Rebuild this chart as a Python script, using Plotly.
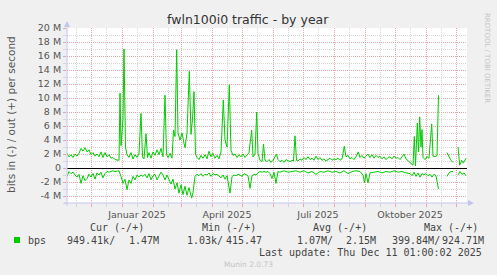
import plotly.graph_objects as go
import pandas as pd

# ---------------- data (Mbit/s, day offsets from start of graph) ----------------
start = pd.Timestamp("2024-11-07")
end = start + pd.Timedelta(days=400)

out_day = [0, 2, 4, 6, 8, 10, 12, 14, 16, 18,
           20, 22, 24, 26, 28, 30, 32, 34, 36, 38,
           40, 42, 44, 46, 48, 50, 52, 53, 54, 56,
           57, 58.5, 60, 62, 64, 66, 68, 70, 72, 74,
           75.5, 77, 79, 80.5, 82, 84, 86, 88, 90, 92,
           94, 96, 98, 99.5, 101, 103, 105, 106.5, 108, 109.7,
           111, 113, 115, 117, 118, 120, 122.3, 124, 125.5, 127,
           128.5, 130, 132, 134, 136, 138, 140, 142, 144, 146,
           148, 150, 152, 154, 156.3, 158, 160, 162.3, 164, 166,
           168, 170, 172, 174, 176, 178, 180, 182, 184.7, 186,
           188, 189.7, 191, 193, 195, 196.5, 198, 200, 202, 204,
           206, 208, 209.5, 211, 213, 215, 217, 219, 221, 223,
           225, 226.5, 228, 229.5, 231, 233, 235, 237, 239, 241,
           243, 245, 247, 249, 251, 253, 255, 257, 259, 261,
           263, 265, 267, 269, 271, 273, 275, 277.3, 279, 281,
           283, 285, 287, 289, 291.3, 293, 295, 297, 299, 301,
           303, 305, 307, 309, 311, 313, 315, 317, 319, 321,
           323, 325, 327, 329, 331, 333, 335, 337, 339, 341,
           343, 345, 346, 347.3, 348.5, 350.3, 351.5, 352.7, 354, 355,
           356, 358, 360, 362, 364.7, 366, 368, 370, 371.5, 375,
           380, 382, 384, 386, 388.5, 391, 392.7, 394.7, 396.3, 399]
out_mbps = [2.1, 1.6, 1.9, 1.5, 2.0, 1.7, 2.1, 2.8, 2.4, 2.9,
            2.3, 2.6, 1.9, 2.2, 1.7, 2.0, 1.6, 2.3, 1.5, 2.2,
            1.6, 1.9, 1.4, 1.5, 1.2, 1.1, 1.1, 10.7, 3.2, 7.0,
            17.0, 3.0, 1.9, 1.5, 2.2, 1.3, 1.9, 1.5, 2.1, 7.8,
            1.6, 1.3, 4.9, 1.5, 2.2, 1.4, 2.3, 1.8, 2.6, 1.9,
            2.8, 1.6, 10.4, 1.9, 1.5, 2.1, 1.4, 5.4, 4.5, 16.9,
            5.0, 4.0, 5.0, 3.5, 2.9, 5.0, 13.8, 4.8, 7.0, 10.9,
            2.0, 1.5, 1.2, 1.8, 1.4, 1.9, 1.3, 2.4, 1.6, 2.1,
            1.4, 1.8, 1.3, 2.3, 9.7, 4.0, 3.0, 11.9, 2.5, 1.8,
            2.0, 1.5, 1.9, 1.6, 2.0, 1.5, 1.8, 2.2, 5.4, 1.6,
            2.0, 8.0, 2.1, 1.1, 0.9, 3.4, 1.1, 0.9, 1.2, 0.8,
            1.1, 1.6, 2.0, 1.2, 0.9, 1.1, 0.8, 1.2, 1.0, 0.9,
            1.1, 1.0, 4.6, 1.1, 1.0, 1.3, 1.1, 1.5, 1.2, 1.6,
            1.2, 1.4, 1.1, 1.7, 1.2, 1.5, 1.1, 1.3, 1.0, 1.2,
            1.4, 1.1, 1.3, 1.2, 1.4, 1.1, 1.3, 3.1, 1.6, 1.8,
            1.3, 1.5, 1.2, 1.6, 2.3, 1.5, 1.8, 1.4, 1.7, 2.0,
            1.5, 1.9, 1.4, 1.8, 1.5, 1.7, 1.3, 1.6, 1.2, 1.5,
            1.6, 1.3, 1.7, 1.4, 1.5, 1.2, 1.6, 2.0, 1.3, 1.0,
            0.7, 0.5, 0.4, 4.5, 0.3, 6.4, 2.3, 7.3, 3.0, 5.5,
            1.5, 1.2, 1.6, 1.4, 6.3, 1.7, 1.6, 1.8, 10.4, None,
            2.2, 1.6, 1.1, 0.8, None, 3.0, 0.4, 1.1, 0.7, 1.4]

in_day = [0, 2, 4, 6, 8, 10, 12, 14, 16, 18,
          20, 22, 24, 26, 28, 30, 32, 34, 36, 38,
          40, 42, 44, 46, 48, 50, 52, 54, 56, 58,
          60, 62, 64, 66, 68, 70, 72, 74, 76, 78,
          80, 82, 84, 86, 88, 90, 92, 94, 96, 98,
          100, 102, 104, 106, 108, 110, 112, 114, 116, 118,
          120, 122, 124.7, 126, 128, 130, 132, 134, 136, 138,
          140, 142, 144, 146, 148, 150, 152, 154, 156, 158,
          160, 163, 165, 167, 169, 171, 173, 175, 177, 179,
          181, 183, 185, 187, 189, 191, 193, 195, 197, 199,
          201, 203, 205, 207, 209, 211, 213, 215, 217, 221,
          225, 229, 233, 237, 241, 245, 249, 253, 257, 261,
          265, 269, 273, 277, 281, 285, 289, 293, 296, 297.5,
          299, 301, 303, 307, 311, 315, 319, 323, 327, 331,
          335, 339, 343, 345, 347, 349, 351, 353, 355, 357,
          359, 361, 363, 365, 367, 369, 371.5, 375, 380, 382,
          384, 386, 388.5, 391, 393, 395, 397, 399]
in_mbps = [-1.2, -0.5, -0.8, -0.6, -1.0, -1.3, -0.9, -2.2, -1.1, -1.8,
           -1.5, -0.9, -1.3, -0.8, -1.6, -0.7, -1.0, -0.6, -1.4, -0.8,
           -0.5, -0.6, -0.5, -0.4, -0.5, -0.5, -0.4, -1.2, -2.2, -1.6,
           -3.1, -1.7, -2.2, -1.2, -1.7, -1.0, -1.3, -1.0, -1.2, -0.9,
           -1.4, -0.8, -1.7, -1.1, -0.9, -1.7, -1.2, -0.6, -1.0, -1.7,
           -1.0, -1.6, -2.3, -1.6, -3.0, -2.1, -3.6, -2.4, -3.8, -2.6,
           -3.9, -2.8, -4.3, -3.5, -1.2, -0.9, -1.1, -0.8, -1.2, -0.9,
           -1.0, -0.7, -1.2, -0.8, -1.0, -0.9, -1.2, -1.4, -1.0, -1.6,
           -1.1, -3.6, -1.2, -1.0, -1.1, -0.9, -1.0, -1.2, -0.8, -1.0,
           -1.1, -2.9, -1.1, -0.9, -1.0, -0.7, -0.5, -0.6, -0.5, -0.6,
           -0.5, -0.8, -1.5, -0.6, -2.2, -0.5, -0.6, -0.5, -0.4, -0.6,
           -0.5, -0.4, -0.6, -0.4, -0.7, -0.5, -0.9, -0.5, -0.6, -0.4,
           -0.6, -0.5, -0.7, -0.4, -0.8, -0.5, -0.4, -0.5, -1.0, -2.1,
           -0.8, -2.1, -0.7, -0.6, -0.5, -0.7, -0.5, -0.6, -0.4, -0.6,
           -0.5, -0.7, -0.8, -1.1, -0.6, -1.2, -0.7, -1.3, -0.8, -1.0,
           -0.8, -1.1, -0.9, -1.3, -0.9, -1.1, -3.0, None, -1.2, -0.7,
           -0.5, -0.5, None, -1.0, -0.5, -0.9, -0.7, -1.1]

y_tick_vals = [-4, -2, 0, 2, 4, 6, 8, 10, 12, 14, 16, 18, 20]
y_tick_text = ["-4 M", "-2 M", "0", "2 M", "4 M", "6 M", "8 M", "10 M",
               "12 M", "14 M", "16 M", "18 M", "20 M"]
month_starts = pd.date_range("2024-12-01", "2025-12-01", freq="MS")
mid_months = [d + pd.Timedelta(days=15) for d in pd.date_range("2024-11-01", "2025-11-01", freq="MS")]
label_months = {"2025-01": "Januar 2025", "2025-04": "April 2025",
                "2025-07": "Juli 2025", "2025-10": "Oktober 2025"}

legend_header = ["Cur (-/+)", "Min (-/+)", "Avg (-/+)", "Max (-/+)"]
legend_values = ["949.41k/", "1.47M", "1.03k/", "415.47", "1.07M/", "2.15M", "399.84M/", "924.71M"]

# ---------------- layout helpers ----------------
W, H = 497, 275
PL, PR, PT, PB = 67, 467, 28, 203  # plot area in pixels


def fx(px):
    return (px - PL) / (PR - PL)


def fy(py):
    return (PB - py) / (PB - PT)


GREEN = "#00CC00"
RED_GRID = "#EBA5A5"
GRAY_GRID = "#D6D6D6"
AXIS = "#C4C4F2"
TXT = "#555555"
SANS = "DejaVu Sans"
MONO = "DejaVu Sans Mono"

fig = go.Figure()
fig.add_trace(go.Scatter(
    x=[start + pd.Timedelta(days=d) for d in out_day],
    y=[None if v is None else v * 1e6 for v in out_mbps],
    mode="lines", line=dict(color=GREEN, width=1), connectgaps=False,
    hoverinfo="skip", showlegend=False))
fig.add_trace(go.Scatter(
    x=[start + pd.Timedelta(days=d) for d in in_day],
    y=[None if v is None else v * 1e6 for v in in_mbps],
    mode="lines", line=dict(color=GREEN, width=1), connectgaps=False,
    hoverinfo="skip", showlegend=False))

fig.update_layout(
    width=W, height=H,
    margin=dict(l=PL, r=W - PR, t=PT, b=H - PB, pad=0),
    paper_bgcolor="#F0F0F0", plot_bgcolor="#FFFFFF",
    showlegend=False,
    xaxis=dict(
        type="date", range=[start, end], fixedrange=True,
        tickmode="array", tickvals=mid_months,
        ticktext=[label_months.get(d.strftime("%Y-%m"), "") for d in mid_months],
        showgrid=True, gridcolor=GRAY_GRID, griddash="1px,1px", gridwidth=1,
        ticks="outside", ticklen=3, tickcolor=GRAY_GRID, tickwidth=1,
        tickfont=dict(family=SANS, size=9.5, color=TXT),
        showline=False, zeroline=False,
        minor=dict(tickmode="array", tickvals=list(month_starts), showgrid=True,
                   gridcolor=RED_GRID, griddash="1px,1px", gridwidth=1,
                   ticks="outside", ticklen=3, tickcolor=RED_GRID, tickwidth=1),
    ),
    yaxis=dict(
        range=[-5e6, 20e6], fixedrange=True,
        tickmode="array", tickvals=[v * 1e6 for v in y_tick_vals], ticktext=y_tick_text,
        showgrid=True, gridcolor=RED_GRID, griddash="1px,1px", gridwidth=1,
        ticks="outside", ticklen=3, tickcolor=RED_GRID, tickwidth=1,
        tickfont=dict(family=SANS, size=9.5, color=TXT),
        showline=False,
        zeroline=True, zerolinecolor="#000000", zerolinewidth=1,
        minor=dict(tickmode="linear", tick0=0, dtick=1e6, showgrid=True,
                   gridcolor=GRAY_GRID, griddash="1px,1px", gridwidth=1,
                   ticks="outside", ticklen=3, tickcolor=GRAY_GRID, tickwidth=1),
    ),
)

shapes = [
    # x axis line + arrow
    dict(type="line", xref="paper", yref="paper", x0=fx(64), x1=fx(468), y0=fy(PB), y1=fy(PB),
         line=dict(color=AXIS, width=1)),
    dict(type="path", xref="paper", yref="paper",
         path=f"M {fx(468)} {fy(200)} L {fx(474)} {fy(203)} L {fx(468)} {fy(206)} Z",
         fillcolor=AXIS, line=dict(width=0)),
    # y axis line + arrow
    dict(type="line", xref="paper", yref="paper", x0=fx(PL), x1=fx(PL), y0=fy(206), y1=fy(27),
         line=dict(color=AXIS, width=1)),
    dict(type="path", xref="paper", yref="paper",
         path=f"M {fx(64)} {fy(27)} L {fx(67)} {fy(21)} L {fx(70)} {fy(27)} Z",
         fillcolor=AXIS, line=dict(width=0)),
    # legend swatch
    dict(type="rect", xref="paper", yref="paper", x0=fx(14), x1=fx(20), y0=fy(243), y1=fy(237),
         fillcolor=GREEN, line=dict(width=0)),
]
fig.update_layout(shapes=shapes)

ann = []


def text(px, py, s, size=10, family=MONO, color="#444444", xanchor="left", angle=0):
    ann.append(dict(xref="paper", yref="paper", x=fx(px), y=fy(py), text=s, showarrow=False,
                    xanchor=xanchor, yanchor="middle", textangle=angle, borderpad=0,
                    font=dict(family=family, size=size, color=color)))


text(248, 19, "fwln100i0 traffic - by year", size=12.5, family=SANS, color="#333333", xanchor="center")
text(11, 115, "bits in (-) / out (+) per second", size=10.5, family=SANS, color=TXT, xanchor="center", angle=-90)
text(487, 58, "RRDTOOL / TOBI OETIKER", size=7, family=SANS, color="#C4C4C4", xanchor="center", angle=90)

for xpos, s in zip([89, 201, 312, 423], legend_header):
    text(xpos, 227, s)
text(27, 240, "bps")
for xpos, s in zip([66, 128, 186, 225, 296, 345, 391, 441], legend_values):
    text(xpos, 240, s)
text(483, 252, "Last update: Thu Dec 11 01:00:02 2025", xanchor="right")
text(248, 264, "Munin 2.0.73", size=7.5, family=SANS, color="#C4C4C4", xanchor="center")

fig.update_layout(annotations=ann)

fig.write_html("out.html")
